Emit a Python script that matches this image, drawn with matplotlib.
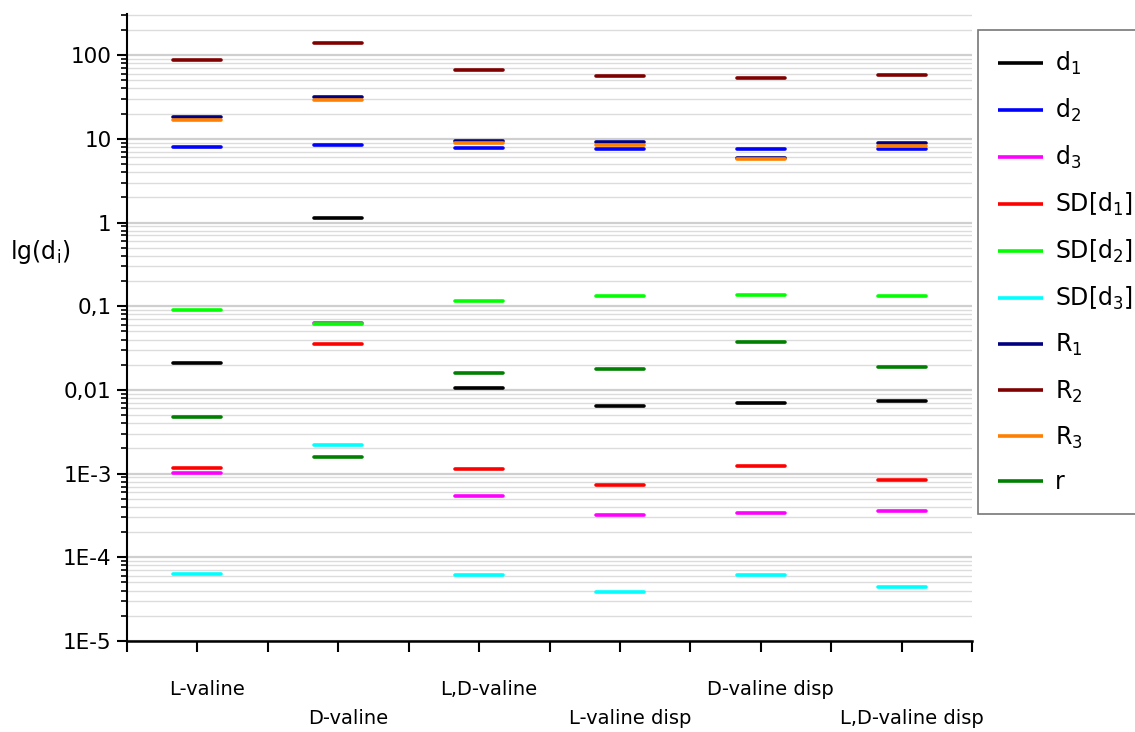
import matplotlib
matplotlib.use('Agg')
import matplotlib.pyplot as plt
import matplotlib.transforms as mtransforms
from matplotlib.ticker import LogLocator, FixedFormatter, FixedLocator, NullFormatter

plt.rcParams['font.family'] = ['DejaVu Sans']
plt.rcParams['mathtext.fontset'] = 'custom'
plt.rcParams['mathtext.rm'] = 'DejaVu Sans'
plt.rcParams['mathtext.it'] = 'DejaVu Sans'
plt.rcParams['mathtext.default'] = 'regular'

# Muestras (eje x)
muestras = ['L-valine', 'D-valine', 'L,D-valine', 'L-valine disp', 'D-valine disp', 'L,D-valine disp']

# Valores
d1 = [0.021, 1.14, 0.0106, 0.0064, 0.0070, 0.0073]
d2 = [7.9, 8.4, 7.8, 7.5, 7.6, 7.6]
d3 = [0.00103, 0.063, 0.00054, 0.00032, 0.00034, 0.00036]
sd_d1 = [0.00116, 0.0355, 0.00114, 0.00074, 0.00123, 0.00085]
sd_d2 = [0.089, 0.061, 0.117, 0.134, 0.137, 0.132]
sd_d3 = [6.4e-5, 0.00217, 6.1e-5, 3.8e-5, 6.1e-5, 4.4e-5]
R1 = [18.0, 32.0, 9.4, 9.1, 5.9, 8.8]
R2 = [88.0, 140.0, 66.0, 56.0, 54.0, 58.0]
R3 = [16.6, 29.0, 8.8, 8.4, 5.7, 8.3]
r = [0.0047, 0.00158, 0.0158, 0.0178, 0.0378, 0.0186]

series = [
    ('d$_1$', d1, 'black'),
    ('d$_2$', d2, '#0000ff'),
    ('d$_3$', d3, '#ff00ff'),
    ('SD[d$_1$]', sd_d1, '#ff0000'),
    ('SD[d$_2$]', sd_d2, '#00ff00'),
    ('SD[d$_3$]', sd_d3, '#00ffff'),
    ('R$_1$', R1, '#000080'),
    ('R$_2$', R2, '#800000'),
    ('R$_3$', R3, '#ff8000'),
    ('r', r, '#008000'),
]

fig = plt.figure(figsize=(11.35, 7.32), dpi=100)
ax = fig.add_axes([127 / 1135, 1 - 641 / 732, (972 - 127) / 1135, (641 - 14) / 732])

x = list(range(len(muestras)))
medio = 0.17
for nombre, valores, color in series:
    ax.hlines(valores, [i - medio for i in x], [i + medio for i in x],
              colors=color, linewidth=2.6, capstyle='round', label=nombre, zorder=3)

ax.set_yscale('log')
ax.set_ylim(1e-5, 310)
ax.set_xlim(-0.5, 5.5)

# Eje y
ax.yaxis.set_major_locator(FixedLocator([1e-5, 1e-4, 1e-3, 1e-2, 1e-1, 1, 10, 100]))
ax.yaxis.set_major_formatter(FixedFormatter(['1E-5', '1E-4', '1E-3', '0,01', '0,1', '1', '10', '100']))
ax.yaxis.set_minor_locator(LogLocator(base=10, subs=range(2, 10), numticks=20))
ax.yaxis.set_minor_formatter(NullFormatter())
ax.tick_params(axis='y', which='major', length=7, width=1.5, labelsize=15.5, pad=4)
ax.tick_params(axis='y', which='minor', length=4, width=1.2)
ax.yaxis.grid(True, which='major', color='#cfcfcf', linewidth=1.6, zorder=0)
ax.yaxis.grid(True, which='minor', color='#dcdcdc', linewidth=1.0, zorder=0)

# Eje x con etiquetas escalonadas
ax.set_xticks(x)
etiquetas = [m if i % 2 == 0 else '\n' + m for i, m in enumerate(muestras)]
ax.set_xticklabels(etiquetas, linespacing=1.7)
ax.set_xticks([i + 0.5 for i in range(-1, 6)], minor=True)
ax.tick_params(axis='x', which='both', length=8, width=1.5, labelsize=14, pad=20)
desplazar = mtransforms.ScaledTranslation(10 / 100, 0, fig.dpi_scale_trans)
for lbl in ax.get_xticklabels():
    lbl.set_transform(lbl.get_transform() + desplazar)

for lado in ['top', 'right']:
    ax.spines[lado].set_visible(False)
ax.spines['left'].set_linewidth(1.5)
ax.spines['bottom'].set_linewidth(1.8)

fig.text(10 / 1135, 1 - 252 / 732, 'lg(d$_i$)', fontsize=17, ha='left', va='center')

leyenda = ax.legend(loc='upper left', bbox_to_anchor=(978 / 1135, 1 - 30 / 732),
                    bbox_transform=fig.transFigure, fontsize=17, frameon=True,
                    fancybox=False, edgecolor='#555555', handlelength=1.9,
                    labelspacing=0.84, borderpad=0.85, handletextpad=0.5,
                    borderaxespad=0)
leyenda.get_frame().set_linewidth(1.2)

fig.savefig('out.png', dpi=100)
